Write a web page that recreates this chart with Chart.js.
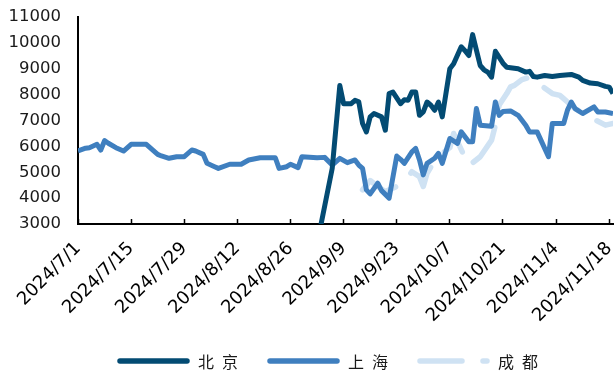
<!DOCTYPE html>
<html>
<head>
<meta charset="utf-8">
<script src="https://cdn.jsdelivr.net/npm/chart.js@4.4.1/dist/chart.umd.min.js"></script>
<style>
  html, body { margin: 0; padding: 0; background: #fff; }
</style>
</head>
<body>
<canvas id="priceChart" width="615" height="372"></canvas>
<script>
// x values are days counted from 2024/7/1
const startDate = new Date(2024, 6, 1);
const tickDays = [0, 14, 28, 42, 56, 70, 84, 98, 112, 126, 140];
const lastDay = 141;

const seriesNames = ["北京", "上海", "成都"];

const bjDays = [64, 67, 69, 70, 72, 73, 74, 75, 76, 77, 78, 80, 81, 82, 83, 85, 86, 87, 88, 89,
  90, 91, 92, 93, 94, 95, 96, 98, 99, 101, 102, 103, 104, 106, 107, 108, 109, 110, 112, 113,
  116, 118, 119, 120, 121, 123, 125, 127, 130, 132, 133, 135, 137, 139, 140, 141];
const bjValues = [2950, 5150, 8350, 7650, 7650, 7780, 7720, 6885, 6560, 7140, 7270, 7140, 6625, 8040, 8100, 7650, 7800, 7780, 8100, 8100,
  7200, 7330, 7715, 7590, 7395, 7715, 7140, 9000, 9190, 9850, 9700, 9510, 10320, 9125, 8960, 8870, 8675, 9675, 9215, 9060,
  9000, 8870, 8900, 8700, 8675, 8740, 8700, 8740, 8780, 8675, 8550, 8445, 8420, 8320, 8290, 8040];

const shDays = [0, 2, 3, 5, 6, 7, 8, 10, 12, 14, 18, 21, 22, 24, 26, 28, 30, 31, 33, 34,
  36, 37, 40, 43, 45, 48, 52, 53, 55, 56, 58, 59, 63, 65, 67, 69, 71, 73, 74, 75,
  76, 77, 79, 80, 82, 84, 85, 86, 88, 89, 90, 91, 92, 94, 95, 96, 98, 100, 101, 103,
  104, 105, 106, 109, 110, 111, 112, 114, 116, 118, 119, 121, 122, 124, 125, 128, 129, 130, 131, 133,
  136, 137, 139, 141];
const shValues = [5830, 5930, 5950, 6080, 5860, 6220, 6120, 5950, 5820, 6080, 6080, 5690, 5630, 5540, 5600, 5600, 5860, 5820, 5690, 5345,
  5215, 5150, 5310, 5310, 5475, 5560, 5560, 5150, 5215, 5310, 5180, 5600, 5560, 5575, 5280, 5535, 5370, 5475, 5280, 5150,
  4320, 4165, 4575, 4290, 4000, 5625, 5500, 5345, 5790, 5920, 5475, 4900, 5345, 5540, 5730, 5345, 6305, 6115, 6560, 6180,
  6180, 7460, 6820, 6780, 7715, 7200, 7350, 7370, 7200, 6820, 6560, 6560, 6240, 5600, 6885, 6885, 7400, 7715, 7460, 7270,
  7525, 7330, 7330, 7270];

const cdDays = [75, 77, 79, 81, 84, 85, 87, 88, 90, 91, 92, 94, 95, 96, 98, 99, 103, 106, 109, 110,
  111, 113, 114, 115, 117, 119, 125, 127, 128, 129, 131, 134, 139, 141];
const cdValues = [4320, 4680, 4450, 4255, 4450, 4510, 4830, 5020, 4830, 4450, 4960, 5450, 5600, 5730, 5950, 6500, 5250, 5600, 6240, 6820,
  7600, 8040, 8300, 8355, 8580, 8675, 8040, 7970, 7845, 7715, 7460, 7200, 6820, 6885];

function toPoints(days, values) {
  return days.map((d, i) => ({ x: d, y: values[i] }));
}

function dayLabel(v) {
  const d = new Date(startDate.getTime());
  d.setDate(d.getDate() + v);
  return d.getFullYear() + "/" + (d.getMonth() + 1) + "/" + d.getDate();
}

// legend drawn by hand so the CJK labels can get wide letter spacing
const lineLegend = {
  id: "lineLegend",
  afterDraw(chart) {
    const ctx = chart.ctx;
    let x = 120;
    const y = 361;
    chart.data.datasets.forEach((ds) => {
      ctx.save();
      ctx.strokeStyle = ds.borderColor;
      ctx.lineWidth = 5.5;
      ctx.lineCap = "round";
      ctx.setLineDash(ds.borderDash || []);
      ctx.beginPath();
      ctx.moveTo(x, y);
      ctx.lineTo(x + 67, y);
      ctx.stroke();
      ctx.setLineDash([]);
      ctx.font = '16px "Noto Sans CJK SC"';
      ctx.letterSpacing = "8px";
      ctx.fillStyle = "#1a1a1a";
      ctx.textBaseline = "middle";
      ctx.fillText(ds.label, x + 78, y + 1);
      const w = ctx.measureText(ds.label).width;
      ctx.restore();
      x += 78 + w + 24;
    });
  }
};

const ctx = document.getElementById("priceChart").getContext("2d");
new Chart(ctx, {
  type: "line",
  data: {
    datasets: [
      {
        label: seriesNames[0],
        data: toPoints(bjDays, bjValues),
        borderColor: "#034b73",
        borderWidth: 5
      },
      {
        label: seriesNames[1],
        data: toPoints(shDays, shValues),
        borderColor: "#3f7fbf",
        borderWidth: 5
      },
      {
        label: seriesNames[2],
        data: toPoints(cdDays, cdValues),
        borderColor: "#cfe2f3",
        borderWidth: 5.5,
        borderDash: [42, 21],
        borderCapStyle: "round"
      }
    ]
  },
  options: {
    responsive: false,
    animation: false,
    layout: { padding: { top: 17, right: 2, bottom: 48, left: 0 } },
    elements: {
      point: { radius: 0 },
      line: { tension: 0, borderJoinStyle: "round", fill: false }
    },
    plugins: {
      legend: { display: false },
      tooltip: { enabled: false }
    },
    scales: {
      x: {
        type: "linear",
        min: 0,
        max: lastDay,
        afterBuildTicks: (axis) => {
          axis.ticks = tickDays.map((v) => ({ value: v }));
        },
        afterFit: (axis) => {
          axis.height = 100;
          axis.paddingLeft = 0;
          axis.paddingRight = 0;
        },
        grid: {
          drawOnChartArea: false,
          tickLength: -5,
          tickColor: "#000",
          tickWidth: 1.5
        },
        border: { color: "#000", width: 2 },
        ticks: {
          autoSkip: false,
          minRotation: 45,
          maxRotation: 45,
          padding: 19,
          color: "#000",
          font: { family: "DejaVu Sans", size: 18 },
          callback: (v) => dayLabel(v)
        }
      },
      y: {
        min: 3000,
        max: 11000,
        afterFit: (axis) => {
          axis.width = 78;
          axis.paddingTop = 0;
          axis.paddingBottom = 0;
        },
        grid: { display: false, drawTicks: false },
        border: { color: "#000", width: 2 },
        ticks: {
          stepSize: 1000,
          padding: 17,
          color: "#1a1a1a",
          font: { family: "DejaVu Sans", size: 16.5 },
          callback: (v) => String(v)
        }
      }
    }
  },
  plugins: [lineLegend]
});
</script>
</body>
</html>
